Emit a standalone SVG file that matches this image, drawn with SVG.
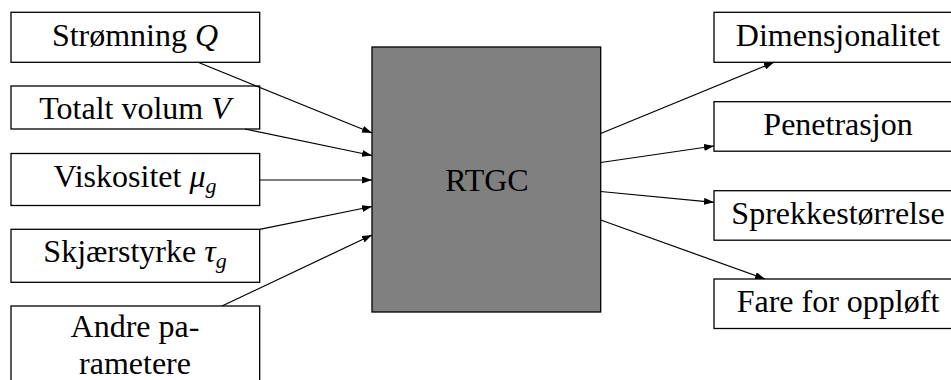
<svg xmlns="http://www.w3.org/2000/svg" width="951" height="380" viewBox="0 0 951 380">
<defs>
<marker id="ah" viewBox="0 0 10 7" refX="10" refY="3.5" markerWidth="10" markerHeight="7" markerUnits="userSpaceOnUse" orient="auto">
<path d="M0,0 L10,3.5 L0,7 Z" fill="#000"/>
</marker>
</defs>
<style>
.box{fill:#fff;stroke:#000;stroke-width:1.3}
.core{fill:#808080;stroke:#000;stroke-width:1.3}
.t{font-family:'Liberation Serif','Times New Roman',Times,'Nimbus Roman','FreeSerif','Noto Serif','DejaVu Serif',serif;font-size:32px;fill:#000;text-anchor:middle}
.i{font-style:italic}
.c{fill:none;stroke:#000;stroke-width:1.2;marker-end:url(#ah)}
</style>
<rect width="951" height="380" fill="#fff"/>
<g id="stromning"><rect class="box" x="11" y="12.3" width="248.7" height="50"/><text class="t" x="135" y="45.5">Strømning <tspan class="i">Q</tspan></text></g>
<g id="volum"><rect class="box" x="11" y="86" width="248.7" height="43"/><text class="t" x="135" y="119">Totalt volum <tspan class="i">V</tspan></text></g>
<g id="viskositet"><rect class="box" x="11" y="153.5" width="248.7" height="52"/><text class="t" x="135" y="186.5">Viskositet <tspan class="i">μ</tspan><tspan class="i" font-size="22" dy="6">g</tspan></text></g>
<g id="skjaerstyrke"><rect class="box" x="11" y="229.3" width="248.7" height="53"/><text class="t" x="135" y="262">Skjærstyrke <tspan class="i">τ</tspan><tspan class="i" font-size="22" dy="6">g</tspan></text></g>
<g id="andre"><rect class="box" x="11" y="306" width="248.7" height="100"/><text class="t" x="135" y="337">Andre pa-</text><text class="t" x="135" y="374">rametere</text></g>
<g id="rtgc"><rect class="core" x="372" y="47" width="228.7" height="265"/><text class="t" x="487" y="191">RTGC</text></g>
<g id="dimensjonalitet"><rect class="box" x="714" y="12.3" width="250" height="50"/><text class="t" x="838" y="45.5">Dimensjonalitet</text></g>
<g id="penetrasjon"><rect class="box" x="714" y="101.7" width="250" height="49.5"/><text class="t" x="838" y="135">Penetrasjon</text></g>
<g id="sprekk"><rect class="box" x="714" y="190.7" width="250" height="49.5"/><text class="t" x="838" y="224">Sprekkestørrelse</text></g>
<g id="fare"><rect class="box" x="714" y="279" width="250" height="49.5"/><text class="t" x="838" y="312">Fare for oppløft</text></g>
<g id="connectors">
<line class="c" x1="198" y1="62.3" x2="372" y2="133"/>
<line class="c" x1="245" y1="129" x2="372" y2="155.5"/>
<line class="c" x1="259.7" y1="180" x2="372" y2="180"/>
<line class="c" x1="259.7" y1="229.3" x2="372" y2="206.5"/>
<line class="c" x1="222" y1="306" x2="372" y2="235"/>
<line class="c" x1="600.7" y1="133.5" x2="774" y2="62.3"/>
<line class="c" x1="600.7" y1="162.5" x2="714" y2="146"/>
<line class="c" x1="600.7" y1="191.5" x2="714" y2="202.3"/>
<line class="c" x1="600.7" y1="220" x2="765" y2="279"/>
</g>
</svg>
